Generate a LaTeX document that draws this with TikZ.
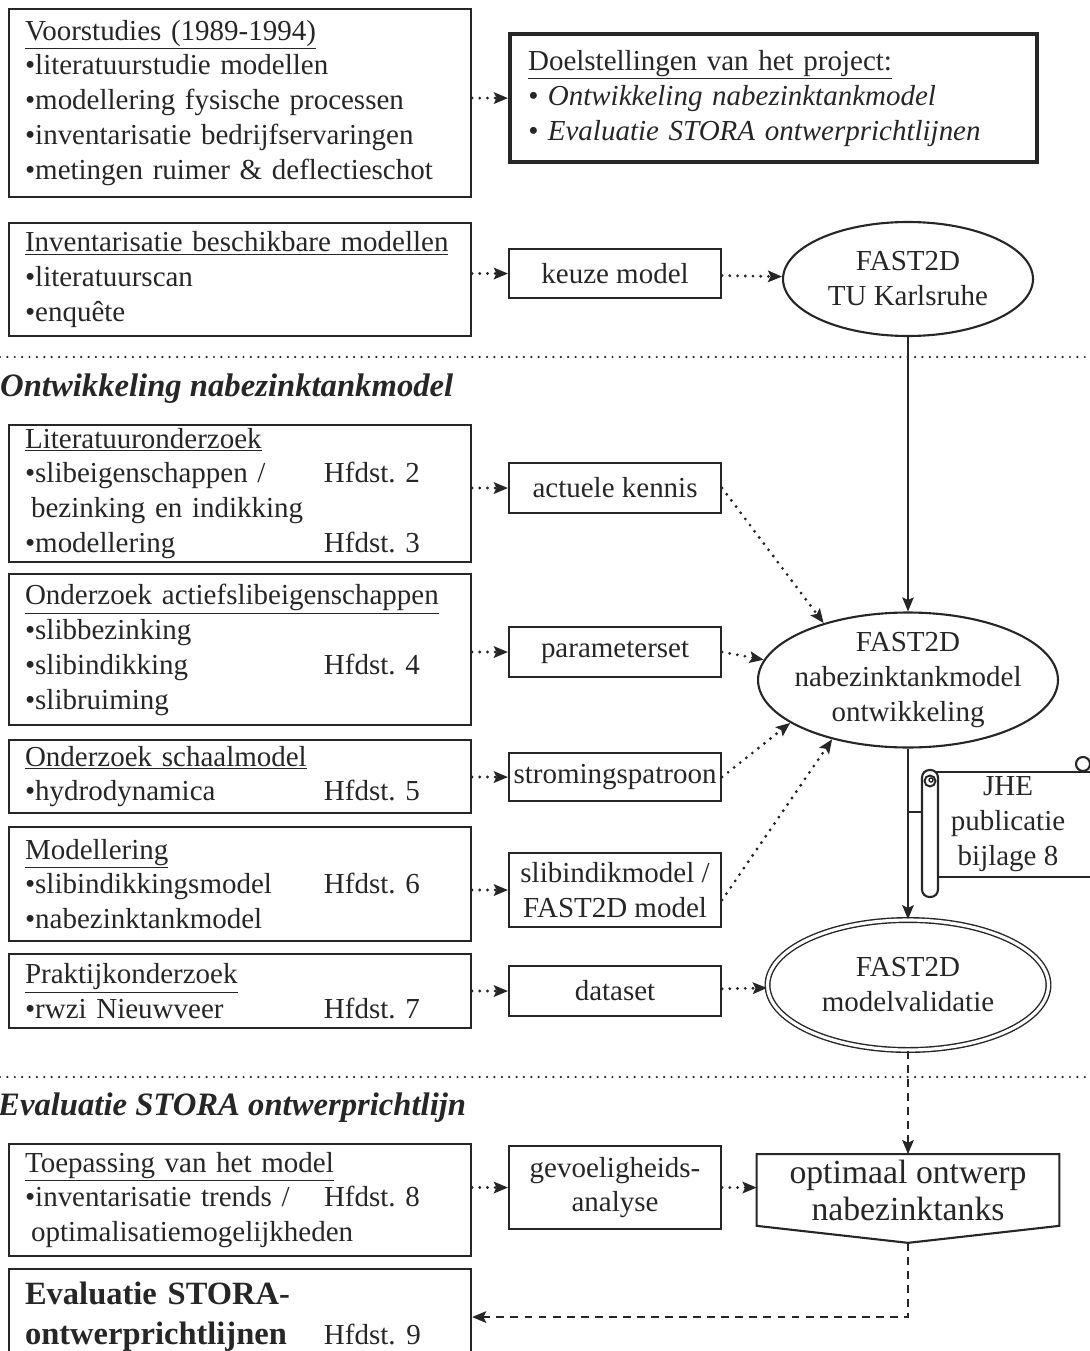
\documentclass[tikz,border=0pt]{standalone}
\usepackage{fontspec}
\setmainfont{Liberation Serif}
\usetikzlibrary{arrows.meta, positioning, shapes.geometric}
\tikzset{
    >={Stealth[length=8pt, width=6.5pt, inset=1.5pt]}, % filled arrow heads
    every node/.style={font=\fontsize{16.5}{19.9}\selectfont},
    studybox/.style={draw, line width=1.2pt, rectangle, anchor=north west, align=left,
        text width=8.6cm, inner xsep=0.32cm, inner ysep=0pt}, % boxes on the left
    resultbox/.style={draw, line width=1.2pt, rectangle, anchor=north west, align=center,
        minimum width=4.24cm, inner xsep=2pt, inner ysep=0pt}, % boxes in the middle
    modelnode/.style={draw, line width=1.2pt, ellipse, align=center, inner sep=0pt},
    dotarrow/.style={->, line width=1.8pt, dash pattern=on 0pt off 4.4pt, line cap=round},
    dasharrow/.style={->, line width=1.5pt, dash pattern=on 4.5pt off 3.5pt},
    solidarrow/.style={->, line width=1.1pt},
    sepline/.style={line width=1.4pt, dash pattern=on 0pt off 4.2pt, line cap=round},
    sectiontitle/.style={anchor=base west, font=\fontsize{18.6}{22}\selectfont\bfseries\itshape},
}
\newcommand{\hfd}[2]{\makebox[5.98cm][l]{#1}Hfdst.~#2}

\begin{document}
\begin{tikzpicture}[x=0.02cm, y=-0.02cm, black!85]
    \useasboundingbox (0,0) rectangle (1089,1351);

    % left column
    \node[studybox, minimum height=3.76cm] at (8,8) (voor) {\underline{Voorstudies (1989-1994)}\\
        •literatuurstudie modellen\\ •modellering fysische processen\\
        •inventarisatie bedrijfservaringen\\ •metingen ruimer \& deflectieschot};
    \node[studybox, minimum height=2.26cm] at (8,222) (inv) {\underline{Inventarisatie beschikbare modellen}\\
        •literatuurscan\\ •enquête};
    \node[studybox, minimum height=2.74cm] at (8,424) (lit) {\underline{Literatuuronderzoek}\\
        \hfd{•slibeigenschappen /}{2}\\ \hspace*{0.12cm}bezinking en indikking\\ \hfd{•modellering}{3}};
    \node[studybox, minimum height=3.02cm] at (8,573) (actief) {\underline{Onderzoek actiefslibeigenschappen}\\
        •slibbezinking\\ \hfd{•slibindikking}{4}\\ •slibruiming};
    \node[studybox, minimum height=1.46cm] at (8,739) (schaal) {\underline{Onderzoek schaalmodel}\\
        \hfd{•hydrodynamica}{5}};
    \node[studybox, minimum height=2.28cm] at (8,826) (modell) {\underline{Modellering}\\
        \hfd{•slibindikkingsmodel}{6}\\ •nabezinktankmodel};
    \node[studybox, minimum height=1.48cm] at (8,953) (prak) {\underline{Praktijkonderzoek}\\
        \hfd{•rwzi Nieuwveer}{7}};
    \node[studybox, minimum height=2.24cm] at (8,1143) (toep) {\underline{Toepassing van het model}\\
        \hfd{•inventarisatie trends /}{8}\\ \hspace*{0.12cm}optimalisatiemogelijkheden};
    \node[studybox, minimum height=1.92cm, font=\fontsize{18.5}{22.7}\selectfont\bfseries] at (8,1268) (evalbox)
        {Evaluatie STORA-\\ \makebox[5.98cm][l]{ontwerprichtlijnen}{\fontsize{16.5}{19.9}\selectfont\mdseries Hfdst.~9}};

    % section lines and titles
    \draw[sepline] (0,357) -- (1089,357);
    \draw[sepline] (0,1077) -- (1089,1077);
    \node[sectiontitle] at (-6,396) (ontw) {Ontwikkeling nabezinktankmodel};
    \node[sectiontitle] at (-8,1115) (evalt) {Evaluatie STORA ontwerprichtlijn};

    % middle column
    \node[draw, line width=2.4pt, anchor=north west, align=left, text width=9.82cm, inner xsep=0.36cm,
        inner ysep=0pt, minimum height=2.56cm] at (508,32) (doel) {\underline{Doelstellingen van het project:}\\
        \textit{• Ontwikkeling nabezinktankmodel}\\ \textit{• Evaluatie STORA ontwerprichtlijnen}};
    \node[resultbox, minimum height=0.98cm] at (508,248) (keuze) {keuze model};
    \node[resultbox, minimum height=1cm] at (508,462) (akennis) {actuele kennis};
    \node[resultbox, minimum height=1cm] at (508,626) (param) {parameterset};
    \node[resultbox, minimum height=0.96cm] at (508,752) (stroming) {stromingspatroon};
    \node[resultbox, minimum height=1.48cm] at (508,852) (slib) {slibindikmodel /\\ FAST2D model};
    \node[resultbox, minimum height=1cm] at (508,965) (dataset) {dataset};
    \node[resultbox, minimum height=1.66cm] at (508,1145) (gevoel) {\rule{0pt}{0.32cm}gevoeligheids-\\ analyse};

    % right column
    \node[modelnode, minimum width=5cm, minimum height=2.28cm] at (908,279) (fast1) {FAST2D\\ TU Karlsruhe};
    \node[modelnode, minimum width=6cm, minimum height=2.7cm, inner xsep=-0.15cm, inner ysep=-0.05cm]
        at (908,680) (fast2) {FAST2D\\ nabezinktankmodel\\ ontwikkeling};
    \node[modelnode, double, double distance=1.8pt, line width=0.8pt, minimum width=5.62cm,
        minimum height=2.6cm] at (908,985) (val) {FAST2D\\ modelvalidatie};
    \node[rectangle, minimum width=6.04cm, minimum height=1.42cm, align=center, inner sep=0pt,
        font=\fontsize{19.2}{21}\selectfont] at (908,1190) (opt) {optimaal ontwerp\\ nabezinktanks};
    \coordinate (opttip) at ([yshift=-0.34cm]opt.south);
    \draw[line width=1.2pt] (opt.north west) -- (opt.north east) -- (opt.south east) -- (opttip)
        -- (opt.south west) -- cycle;

    % scroll
    \draw[line width=1.2pt] (936,772) -- (1095,772);
    \draw[line width=1.2pt] (936,877) -- (1095,877);
    \draw[line width=1.2pt, fill=white] (1083,764) circle[radius=0.14cm];
    \draw[line width=1.2pt, fill=white, rounded corners=0.15cm] (922,770) rectangle (938,897);
    \draw[line width=1.1pt] (930,781) circle[radius=0.11cm];
    \draw[line width=0.8pt] (931,780) circle[radius=0.04cm];
    \node[align=center] at (1008,824) (jhe) {JHE\\ publicatie\\ bijlage 8};
    \coordinate (jhelink) at (922,812);

    % connectors
    \draw[dotarrow] (voor.east |- doel.west) -- (doel.west);
    \draw[dotarrow] (inv.east |- keuze.west) -- (keuze.west);
    \draw[dotarrow] (keuze) -- (fast1);
    \draw[solidarrow] (fast1) -- (fast2);
    \draw[dotarrow] (lit.east |- akennis.west) -- (akennis.west);
    \draw[dotarrow] (actief.east |- param.west) -- (param.west);
    \draw[dotarrow] (schaal.east |- stroming.west) -- (stroming.west);
    \draw[dotarrow] (modell.east |- slib.west) -- (slib.west);
    \draw[dotarrow] (prak.east |- dataset.west) -- (dataset.west);
    \draw[dotarrow] (toep.east |- gevoel.west) -- (gevoel.west);
    \draw[dotarrow] (akennis.east) -- (fast2.146);
    \draw[dotarrow] (param.east) -- (fast2.172);
    \draw[dotarrow] (stroming.east) -- (fast2.200);
    \draw[dotarrow] ([yshift=-0.2cm]slib.east) -- (fast2.218);
    \draw[solidarrow] (fast2) -- (val);
    \draw[line width=1.1pt] (jhelink) -- (jhelink -| fast2.south);
    \draw[dotarrow] (dataset) -- (val);
    \draw[dasharrow] (val) -- (opt);
    \draw[dotarrow] (gevoel.east) -- (opt.west |- gevoel.east);
    \draw[dasharrow] (opttip) |- (evalbox.east);
\end{tikzpicture}
\end{document}
